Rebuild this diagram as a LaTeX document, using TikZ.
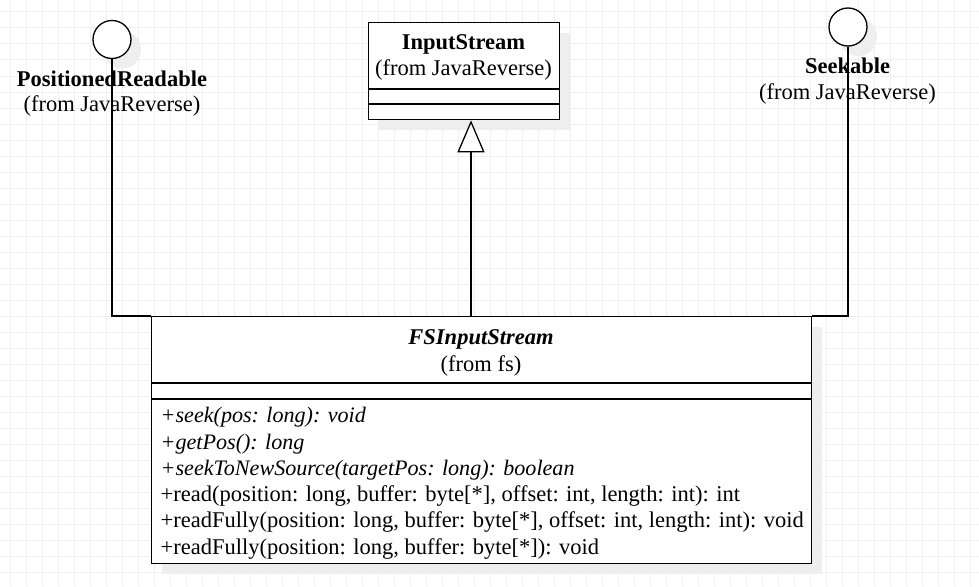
\documentclass[tikz,border=0pt]{standalone}
\usepackage{fontspec}
\setmainfont{Liberation Serif}
\usetikzlibrary{arrows.meta,shadows}
\definecolor{gridc}{RGB}{240,240,240}
\definecolor{shadc}{RGB}{238,238,238}
\tikzset{
  umlline/.style={line width=1.3pt, draw=black},
  shad/.style={drop shadow={shadow xshift=10pt, shadow yshift=-10pt, fill=shadc, opacity=1}},
  classbox/.style={umlline, fill=white, rectangle, anchor=north west, inner sep=0pt, shad},
  iface/.style={umlline, fill=white, circle, minimum size=38pt, inner sep=0pt, shad},
  txt/.style={anchor=base, inner sep=0pt, font=\fontsize{22.5}{26.3}\selectfont},
  meth/.style={anchor=base west, inner sep=0pt, font=\fontsize{22.5}{26.3}\selectfont},
  imeth/.style={anchor=base west, inner sep=0pt, font=\fontsize{22.1}{26.3}\selectfont\itshape},
}
\begin{document}
\begin{tikzpicture}[x=1pt,y=-1pt]
\useasboundingbox (0,0) rectangle (979,586);
\fill[white] (0,0) rectangle (979,586);
% grid
\foreach \k in {0,...,60} \draw[gridc, line width=1pt] (10.3+16*\k,0) -- (10.3+16*\k,586);
\foreach \k in {0,...,36} \draw[gridc, line width=1pt] (0,12+16*\k) -- (979,12+16*\k);

% interfaces
\node[iface] (pr) at (112,39.5) {};
\node[iface] (sk) at (848,27) {};

% InputStream class
\node[classbox, minimum width=191pt, minimum height=97pt] (is) at (368,22) {};
\coordinate (isd1l) at (368,89); \coordinate (isd1r) at (559,89);
\coordinate (isd2l) at (368,104); \coordinate (isd2r) at (559,104);
\draw[umlline] (isd1l) -- (isd1r);
\draw[umlline] (isd2l) -- (isd2r);
\node[txt] (isname) at (463.5,50) {\textbf{InputStream}};
\node[txt] (isfrom) at (463.5,75.7) {(from JavaReverse)};

% FSInputStream class
\node[classbox, minimum width=660pt, minimum height=247pt] (fs) at (151,316) {};
\coordinate (fsd1l) at (151,383); \coordinate (fsd1r) at (811,383);
\coordinate (fsd2l) at (151,399); \coordinate (fsd2r) at (811,399);
\draw[umlline] (fsd1l) -- (fsd1r);
\draw[umlline] (fsd2l) -- (fsd2r);
\node[txt] (fsname) at (481,344) {\textbf{\textit{FSInputStream}}};
\node[txt] (fsfrom) at (481,371) {(from fs)};
\node[imeth] (m1) at (160.5,422.7) {+seek(pos: long): void};
\node[imeth] (m2) at (160.5,449) {+getPos(): long};
\node[imeth] (m3) at (160.5,475.3) {+seekToNewSource(targetPos: long): boolean};
\node[meth] (m4) at (160.5,501.6) {+read(position: long, buffer: byte[*], offset: int, length: int): int};
\node[meth] (m5) at (160.5,527.9) {+readFully(position: long, buffer: byte[*], offset: int, length: int): void};
\node[meth] (m6) at (160.5,554.2) {+readFully(position: long, buffer: byte[*]): void};

% realization lines
\draw[umlline] (pr.south) |- (fs.north west);
\draw[umlline] (sk.south) |- (fs.north east);

% generalization
\coordinate (gen) at (471,316);
\draw[umlline, -{Triangle[open, length=32pt, width=27pt, line width=1.3pt, fill=white]}] (gen) -- (gen |- is.south);

% interface labels
\node[txt] (prname) at (112,86.7) {\textbf{PositionedReadable}};
\node[txt] (prfrom) at (112,111) {(from JavaReverse)};
\node[txt] (skname) at (847.5,74) {\textbf{Seekable}};
\node[txt] (skfrom) at (847.5,99) {(from JavaReverse)};
\end{tikzpicture}
\end{document}
